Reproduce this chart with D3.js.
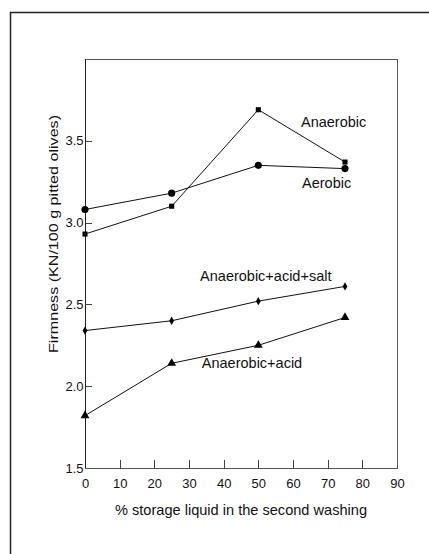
<!DOCTYPE html>
<html lang='en'>
<head>
    <meta charset='UTF-8'>
    <title>Firmness vs storage liquid</title>
    <script src='https://cdn.jsdelivr.net/npm/d3@7/dist/d3.min.js'></script>
    <style>
        body { margin: 0; background: #fff; font-family: 'Liberation Sans', Arial, Helvetica, sans-serif; }
        .axis path { display: none; }
        .axis line { stroke: #444; stroke-width: 1; shape-rendering: crispEdges; }
        .axis text { font-size: 13px; fill: #111; font-family: 'Liberation Sans', Arial, sans-serif; }
        .series { fill: none; stroke: #111; stroke-width: 1; }
        .label { font-size: 14.5px; fill: #111; }
    </style>
</head>
<body>
<script>
    // x values (% storage liquid) shared by every series
    const xValues = [0, 25, 50, 75];

    const anaerobic = [2.93, 3.10, 3.69, 3.37];
    const aerobic = [3.08, 3.18, 3.35, 3.33];
    const anaerobicAcidSalt = [2.34, 2.40, 2.52, 2.61];
    const anaerobicAcid = [1.82, 2.14, 2.25, 2.42];

    const xTicks = [0, 10, 20, 30, 40, 50, 60, 70, 80, 90];
    const yTicks = [1.5, 2.0, 2.5, 3.0, 3.5];

    // label anchors in data units
    const seriesNames = ['Anaerobic', 'Aerobic', 'Anaerobic+acid+salt', 'Anaerobic+acid'];
    const labelX = [62.3, 62.6, 33.2, 33.7];
    const labelY = [3.584, 3.21, 2.64, 2.11];

    const width = 429, height = 554;
    const plot = { left: 85, right: 397, top: 59, bottom: 468 };

    const svg = d3.select('body').append('svg')
        .attr('width', width)
        .attr('height', height);

    // outer page frame (runs off the right and bottom)
    svg.append('rect')
        .attr('x', 10.5).attr('y', 12.5)
        .attr('width', 600).attr('height', 700)
        .attr('fill', 'none')
        .attr('stroke', '#222')
        .attr('stroke-width', 1.5);

    const x = d3.scaleLinear().domain([0, 90]).range([plot.left, plot.right]);
    const y = d3.scaleLinear().domain([1.5, 4.0]).range([plot.bottom, plot.top]);

    // plot box
    svg.append('rect')
        .attr('x', plot.left + 0.5).attr('y', plot.top + 0.5)
        .attr('width', plot.right - plot.left).attr('height', plot.bottom - plot.top)
        .attr('fill', 'none')
        .attr('stroke', '#555')
        .attr('stroke-width', 1);

    svg.append('line')
        .attr('x1', plot.left + 0.5).attr('x2', plot.left + 0.5)
        .attr('y1', plot.top).attr('y2', plot.bottom)
        .attr('stroke', '#222');

    svg.append('g')
        .attr('class', 'axis x-axis')
        .attr('transform', `translate(0, ${plot.bottom + 0.5})`)
        .call(d3.axisBottom(x).tickValues(xTicks).tickSizeInner(-9).tickSizeOuter(0).tickPadding(10))
        .selectAll('.tick line')
        .attr('opacity', d => (d === 0 || d === 90) ? 0 : 1);

    svg.append('g')
        .attr('class', 'axis y-axis')
        .attr('transform', `translate(${plot.left + 0.5}, 0)`)
        .call(d3.axisLeft(y).tickValues(yTicks).tickFormat(d3.format('.1f'))
            .tickSizeInner(-6).tickSizeOuter(0).tickPadding(2))
        .selectAll('.tick line')
        .attr('opacity', d => d === 1.5 ? 0 : 1);

    const line = d3.line()
        .x((d, i) => x(xValues[i]))
        .y(d => y(d));

    const allSeries = [anaerobic, aerobic, anaerobicAcidSalt, anaerobicAcid];
    const symbols = [
        d3.symbol().type(d3.symbolSquare).size(26),
        d3.symbol().type(d3.symbolCircle).size(40),
        d3.symbol().type(d3.symbolDiamond).size(20),
        d3.symbol().type(d3.symbolTriangle).size(34)
    ];

    allSeries.forEach((values, k) => {
        svg.append('path')
            .datum(values)
            .attr('class', 'series')
            .attr('d', line);

        svg.append('g').selectAll('path')
            .data(values)
            .enter().append('path')
            .attr('transform', (d, i) => `translate(${x(xValues[i])}, ${y(d)})`)
            .attr('d', symbols[k])
            .attr('fill', '#000');
    });

    // series labels
    svg.append('g').selectAll('text')
        .data(seriesNames)
        .enter().append('text')
        .attr('class', 'label')
        .attr('x', (d, i) => x(labelX[i]))
        .attr('y', (d, i) => y(labelY[i]))
        .text(d => d);

    // axis titles
    svg.append('text')
        .attr('class', 'label')
        .attr('text-anchor', 'middle')
        .attr('x', (plot.left + plot.right) / 2 - 0)
        .attr('y', 515)
        .attr('textLength', 252)
        .attr('lengthAdjust', 'spacingAndGlyphs')
        .text('% storage liquid in the second washing');

    svg.append('text')
        .attr('class', 'label')
        .attr('text-anchor', 'middle')
        .attr('transform', `translate(58, 234) rotate(-90)`)
        .attr('textLength', 238)
        .attr('lengthAdjust', 'spacingAndGlyphs')
        .style('font-size', '13.5px')
        .text('Firmness (KN/100 g pitted olives)');
</script>
</body>
</html>
